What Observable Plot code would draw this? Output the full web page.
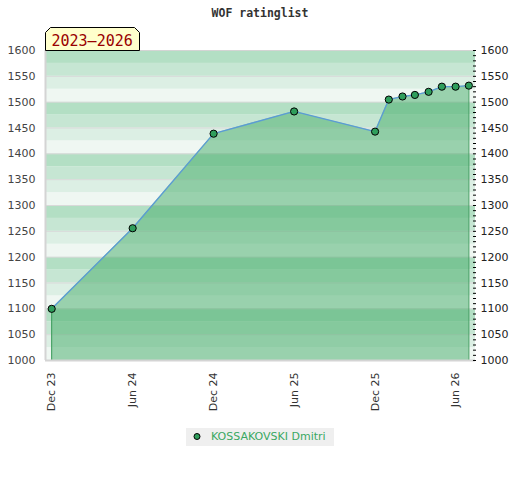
<!DOCTYPE html>
<html>
<head>
<meta charset="utf-8">
<script src="https://cdn.jsdelivr.net/npm/d3@7"></script>
<script src="https://cdn.jsdelivr.net/npm/@observablehq/plot@0.6"></script>
<style>
  html, body { margin: 0; padding: 0; background: #fff; }
  #wrap { position: relative; width: 520px; height: 480px; }
  #wrap > svg.plot { position: absolute; left: 0; top: 0; }
  #title { position: absolute; left: 0; top: 6px; width: 520px; text-align: center;
    font: bold 11.5px "DejaVu Sans Mono", monospace; color: #333; line-height: 14px; }
  #badge { position: absolute; left: 44px; top: 26px; }
  #legend { position: absolute; left: 186px; top: 428px; width: 148px; height: 18px; background: #efefef; }
  #legend svg { position: absolute; left: 0; top: 0; }
  #legend span { position: absolute; left: 25px; top: 2px; font: 11px "DejaVu Sans", sans-serif; color: #3aa862; line-height: 14px; white-space: nowrap; }
</style>
</head>
<body>
<div id="wrap">
  <div id="title">WOF ratinglist</div>
</div>
<script>
const title = "WOF ratinglist";
const period = "2023–2026";
const playerName = "KOSSAKOVSKI Dmitri";

const dates = ["2023-12-01","2024-06-01","2024-12-01","2025-06-01","2025-12-01","2026-01-01","2026-02-01","2026-03-01","2026-04-01","2026-05-01","2026-06-01","2026-07-01"];
const ratings = [1100, 1256, 1439, 1482, 1443, 1505, 1511, 1514, 1520, 1530, 1530, 1532];

const tickDates = ["2023-12-01","2024-06-01","2024-12-01","2025-06-01","2025-12-01","2026-06-01"];
const xDomain = ["2023-11-17","2026-07-16"];
const yDomain = [1000, 1600];
const majorTicks = [1000,1050,1100,1150,1200,1250,1300,1350,1400,1450,1500,1550,1600];
const bandStarts = [1000,1025,1050,1075,1100,1125,1150,1175,1200,1225,1250,1275,1300,1325,1350,1375,1400,1425,1450,1475,1500,1525,1550,1575];
const bandColors = ["#eff7f2", "#dcefe4", "#c6e6d3", "#b3dfc4"];

const parse = d3.utcParse("%Y-%m-%d");
const data = dates.map((d, i) => ({date: parse(d), rating: ratings[i]}));
const bands = bandStarts.map(v => ({y1: v, y2: v + 25, fill: bandColors[(v % 100) / 25]}));
const minorTicks = d3.range(yDomain[0], yDomain[1] + 1, 10);
const ends = [data[0], data[data.length - 1]];
const intFmt = d3.format("d");

const chart = Plot.plot({
  width: 520,
  height: 480,
  marginTop: 50,
  marginRight: 45,
  marginBottom: 120,
  marginLeft: 45,
  style: {fontFamily: "DejaVu Sans, sans-serif", fontSize: "11px", color: "#444", background: "transparent"},
  x: {type: "utc", domain: xDomain.map(parse)},
  y: {domain: yDomain},
  marks: [
    Plot.rect(bands, {y1: "y1", y2: "y2", fill: "fill"}),
    Plot.ruleY(majorTicks, {stroke: "#d9d9d9", strokeWidth: 1}),
    Plot.areaY(data, {x: "date", y1: yDomain[0], y2: "rating", fill: "#43ab68", fillOpacity: 0.5}),
    Plot.ruleX(ends, {x: "date", y1: yDomain[0], y2: "rating", stroke: "#3a9a5a", strokeWidth: 1}),
    Plot.line(data, {x: "date", y: "rating", stroke: "#5b9bd5", strokeWidth: 1.3}),
    Plot.dot(data, {x: "date", y: "rating", r: 3.6, fill: "#2f9e5c", stroke: "#000", strokeWidth: 1}),
    Plot.ruleY([yDomain[0]], {stroke: "#d4d4d4", strokeWidth: 2}),
    Plot.ruleY([yDomain[1]], {stroke: "#d4d4d4", strokeWidth: 1}),
    Plot.ruleX([parse(xDomain[0])], {stroke: "#d4d4d4", strokeWidth: 2}),
    Plot.axisY({anchor: "left", ticks: majorTicks, tickFormat: intFmt, tickSize: 0, tickPadding: 10, fill: "#444"}),
    Plot.axisY({anchor: "right", ticks: majorTicks, tickFormat: intFmt, tickSize: 0, tickPadding: 5, fill: "#222"}),
    Plot.axisY({anchor: "right", ticks: minorTicks, tickSize: 3, dx: -3, tickFormat: () => "", stroke: "#000"}),
    Plot.axisX({ticks: tickDates.map(parse), tickFormat: d3.utcFormat("%b %y"), tickRotate: -90, tickSize: 0, tickPadding: 12, fill: "#333"})
  ]
});
chart.classList.add("plot");
const wrap = document.getElementById("wrap");
wrap.insertBefore(chart, wrap.firstChild);

// badge
const badge = document.createElement("div");
badge.id = "badge";
badge.innerHTML = `<svg width="98" height="26" xmlns="http://www.w3.org/2000/svg">
  <polygon points="1.5,6.5 6.5,1.5 90.5,1.5 95.5,6.5 95.5,24.5 1.5,24.5" fill="#ffffcc" stroke="#000" stroke-width="1"/>
  <text x="7.5" y="19.5" font-family="DejaVu Sans Mono, monospace" font-size="15px" fill="#990000">${period}</text>
</svg>`;
wrap.appendChild(badge);

// legend
const legend = document.createElement("div");
legend.id = "legend";
legend.innerHTML = `<svg width="20" height="18"><circle cx="11" cy="8.5" r="3" fill="#2f9e5c" stroke="#000" stroke-width="1"/></svg><span>${playerName}</span>`;
wrap.appendChild(legend);
</script>
</body>
</html>
